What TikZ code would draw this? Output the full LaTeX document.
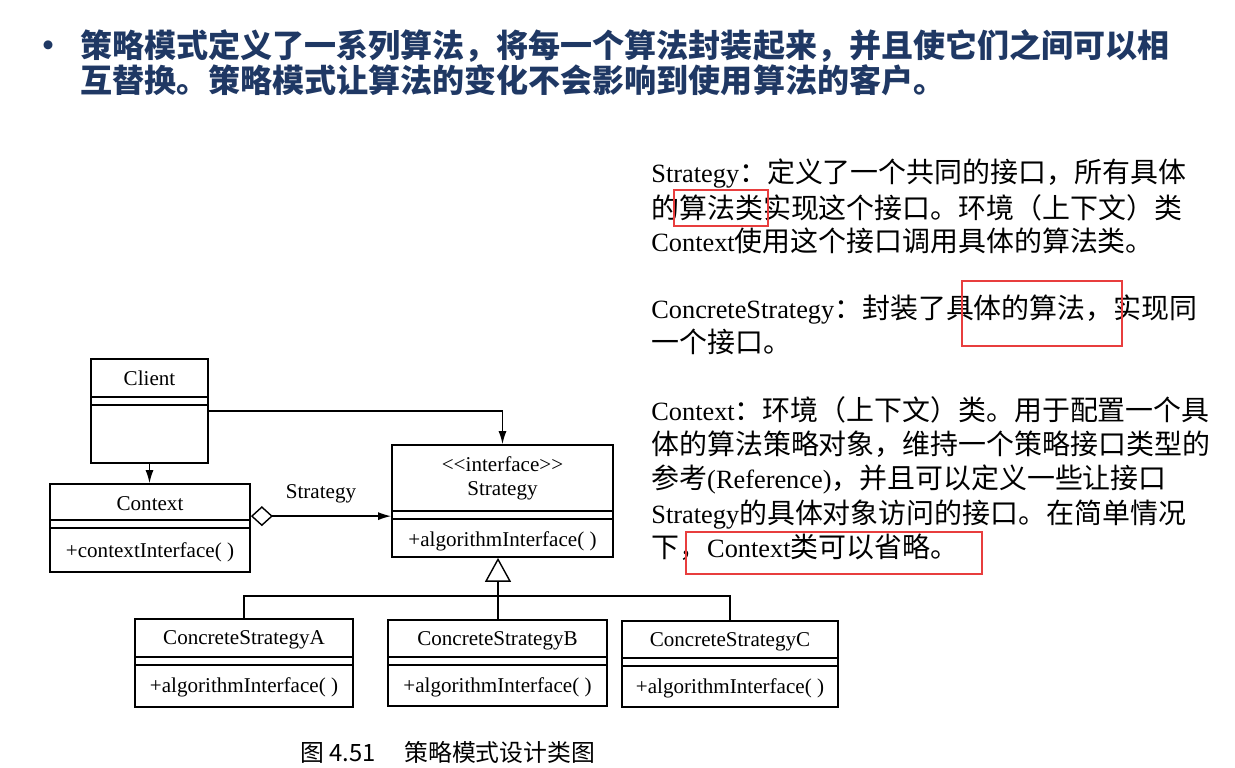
\documentclass[tikz,border=0pt]{standalone}
\usepackage{fontspec}
\setmainfont{Liberation Serif}
\newfontfamily\cjk[Scale=1.06]{Noto Sans CJK SC}
\usetikzlibrary{positioning,arrows.meta,calc}
\definecolor{headblue}{RGB}{31,56,100}
\definecolor{markred}{RGB}{232,62,62}

\begin{document}
\begin{tikzpicture}[
  x=0.02cm, y=-0.02cm,
  cls/.style={draw, line width=1pt, inner sep=0pt},
  lbl/.style={font=\fontsize{12}{14}\selectfont, inner sep=0pt, text height=8pt, text depth=0pt},
  note/.style={anchor=base west, inner sep=0pt, font=\fontsize{15}{18}\selectfont},
  head/.style={anchor=base west, inner sep=0pt, font=\cjk\bfseries\fontsize{17.2}{21}\selectfont, text=headblue},
  arr/.style={-{Latex[length=2.6mm,width=1.6mm]}, line width=0.8pt},
  agg/.style={{Diamond[open,length=4.4mm,width=4mm]}-{Latex[length=2.6mm,width=1.6mm]}, line width=0.8pt},
  inh/.style={-{Triangle[open,length=4.8mm,width=5.2mm]}, line width=0.8pt},
  redbox/.style={draw=markred, line width=1.4pt}
]
\useasboundingbox (0,0) rectangle (1235,768);
\fill[white] (0,0) rectangle (1235,768);

% heading
\node[head] (dot) at (32,57) {•};
\node[head] (head1) at (80,57) {策略模式定义了一系列算法，将每一个算法封装起来，并且使它们之间可以相};
\node[head] (head2) at (80,92) {互替换。策略模式让算法的变化不会影响到使用算法的客户。};

% class boxes
\node[cls, minimum width=2.34cm, minimum height=2.08cm] (client) at (149.5,411) {};
\node[cls, minimum width=4cm, minimum height=1.76cm] (context) at (150,528) {};
\node[cls, minimum width=4.42cm, minimum height=2.24cm] (strategy) at (502.5,501) {};
\node[cls, minimum width=4.36cm, minimum height=1.76cm] (csa) at (244,663) {};
\node[cls, minimum width=4.38cm, minimum height=1.72cm] (csb) at (497.5,663) {};
\node[cls, minimum width=4.32cm, minimum height=1.72cm] (csc) at (730,664) {};

% empty attribute compartments
\foreach \c/\a in {client/39, context/37, strategy/67, csa/39, csb/38, csc/38}{
  \draw[line width=1pt] ($(\c.north west)+(0,\a)$) -- ($(\c.north east)+(0,\a)$)
    ($(\c.north west)+(0,{\a+8})$) -- ($(\c.north east)+(0,{\a+8})$);
}

\node[lbl] (clientname) at ($(client.north)+(0,20)$) {Client};
\node[lbl] (contextname) at ($(context.north)+(0,20)$) {Context};
\node[lbl] (contextop) at ($(context.north)+(0,67)$) {+contextInterface( )};
\node[lbl] (stereo) at ($(strategy.north)+(0,20)$) {<{}<interface>{}>};
\node[lbl] (strategyname) at ($(strategy.north)+(0,44)$) {Strategy};
\node[lbl] (strategyop) at ($(strategy.north)+(0,95)$) {+algorithmInterface( )};
\node[lbl] (csaname) at ($(csa.north)+(0,19)$) {ConcreteStrategyA};
\node[lbl] (csaop) at ($(csa.north)+(0,67)$) {+algorithmInterface( )};
\node[lbl] (csbname) at ($(csb.north)+(0,19)$) {ConcreteStrategyB};
\node[lbl] (csbop) at ($(csb.north)+(0,66)$) {+algorithmInterface( )};
\node[lbl] (cscname) at ($(csc.north)+(0,19)$) {ConcreteStrategyC};
\node[lbl] (cscop) at ($(csc.north)+(0,66)$) {+algorithmInterface( )};

% relations
\draw[arr] (client.south) -- (client.south |- context.north);
\draw[arr] ($(client.north east)+(0,53)$) -| (strategy.north);
\coordinate (aggstart) at ($(context.north east)+(0,33)$);
\draw[agg] (aggstart) -- (aggstart -| strategy.west)
  node[lbl, midway, above=9.5pt] (rolename) {Strategy};
\coordinate (fork) at (498,596);
\draw[inh] (fork) -- (fork |- strategy.south);
\draw[line width=0.8pt] (csa.north) |- (fork) -| (csc.north);
\draw[line width=0.8pt] (fork) -- (fork |- csb.north);

\node[anchor=base west, inner sep=0pt, font=\cjk\fontsize{12.8}{15}\selectfont] (caption)
  at (300,761) {图 4.51\hspace{1.2em}策略模式设计类图};

% notes on the right
\node[note] (s1) at (651,182.5) {Strategy{\cjk ：定义了一个共同的接口，所有具体}};
\node[note] (s2) at (651,218.5) {\cjk 的算法类实现这个接口。环境（上下文）类};
\node[note] (s3) at (651,251.5) {Context{\cjk 使用这个接口调用具体的算法类。}};
\node[note] (cs1) at (651,318.5) {ConcreteStrategy{\cjk ：封装了具体的算法，实现同}};
\node[note] (cs2) at (651,352.5) {\cjk 一个接口。};
\node[note] (c1) at (651,420.5) {Context{\cjk ：环境（上下文）类。用于配置一个具}};
\node[note] (c2) at (651,454.5) {\cjk 体的算法策略对象，维持一个策略接口类型的};
\node[note] (c3) at (651,488.5) {{\cjk 参考}(Reference){\cjk ，并且可以定义一些让接口}};
\node[note] (c4) at (651,523.5) {Strategy{\cjk 的具体对象访问的接口。在简单情况}};
\node[note] (c5) at (651,557.5) {{\cjk 下，}Context{\cjk 类可以省略。}};

\draw[redbox] (674,190) rectangle (768,226);
\draw[redbox] (962,281) rectangle (1122,346);
\draw[redbox] (686,532) rectangle (982,574);
\end{tikzpicture}
\end{document}
